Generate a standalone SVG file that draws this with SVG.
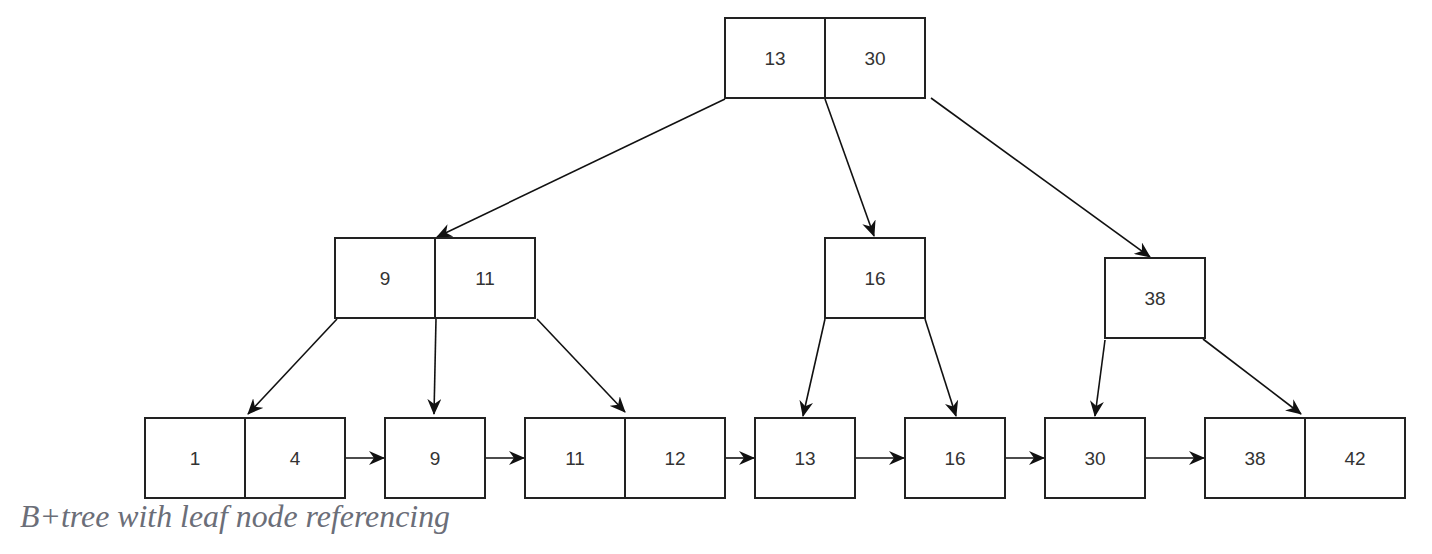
<svg xmlns="http://www.w3.org/2000/svg" width="1432" height="554" viewBox="0 0 1432 554">
<style>
.b{fill:#fff;stroke:#222;stroke-width:2}
.d{stroke:#222;stroke-width:2}
.t{font-family:"Liberation Sans",Arial,sans-serif;font-size:19px;fill:#333;text-anchor:middle;dominant-baseline:central}
.c{stroke:#111;stroke-width:1.6;fill:none;marker-end:url(#a)}
.cap{font-family:"Liberation Serif","Times New Roman",serif;font-style:italic;font-size:31px;fill:#6b6e78}
</style>
<defs>
<marker id="a" viewBox="0 0 16 14" refX="15" refY="7" markerWidth="16" markerHeight="14" markerUnits="userSpaceOnUse" orient="auto">
<path d="M0,0 L16,7 L0,14 L5,7 Z" fill="#111"/>
</marker>
</defs>
<g id="connectors">
<line class="c" x1="725" y1="99" x2="437" y2="237"/>
<line class="c" x1="825" y1="99" x2="874" y2="236"/>
<line class="c" x1="931" y1="98" x2="1150" y2="257"/>
<line class="c" x1="337" y1="319" x2="248" y2="414"/>
<line class="c" x1="436" y1="319" x2="434" y2="414"/>
<line class="c" x1="537" y1="319" x2="625" y2="412"/>
<line class="c" x1="825" y1="319" x2="803" y2="416"/>
<line class="c" x1="925" y1="319" x2="956" y2="416"/>
<line class="c" x1="1105" y1="340" x2="1095" y2="416"/>
<line class="c" x1="1203" y1="339" x2="1301" y2="414"/>
<line class="c" x1="346" y1="458" x2="384" y2="458"/>
<line class="c" x1="486" y1="458" x2="524" y2="458"/>
<line class="c" x1="726" y1="458" x2="754" y2="458"/>
<line class="c" x1="856" y1="458" x2="904" y2="458"/>
<line class="c" x1="1006" y1="458" x2="1044" y2="458"/>
<line class="c" x1="1146" y1="458" x2="1204" y2="458"/>
</g>
<g id="root">
<rect class="b" x="725" y="18" width="200" height="80"/>
<line class="d" x1="825" y1="18" x2="825" y2="98"/>
<text class="t" x="775" y="58">13</text>
<text class="t" x="875" y="58">30</text>
</g>
<g id="n-9-11">
<rect class="b" x="335" y="238" width="200" height="80"/>
<line class="d" x1="435" y1="238" x2="435" y2="318"/>
<text class="t" x="385" y="278">9</text>
<text class="t" x="485" y="278">11</text>
</g>
<g id="n-16">
<rect class="b" x="825" y="238" width="100" height="80"/>
<text class="t" x="875" y="278">16</text>
</g>
<g id="n-38">
<rect class="b" x="1105" y="258" width="100" height="80"/>
<text class="t" x="1155" y="298">38</text>
</g>
<g id="leaf-1-4">
<rect class="b" x="145" y="418" width="200" height="80"/>
<line class="d" x1="245" y1="418" x2="245" y2="498"/>
<text class="t" x="195" y="458">1</text>
<text class="t" x="295" y="458">4</text>
</g>
<g id="leaf-9">
<rect class="b" x="385" y="418" width="100" height="80"/>
<text class="t" x="435" y="458">9</text>
</g>
<g id="leaf-11-12">
<rect class="b" x="525" y="418" width="200" height="80"/>
<line class="d" x1="625" y1="418" x2="625" y2="498"/>
<text class="t" x="575" y="458">11</text>
<text class="t" x="675" y="458">12</text>
</g>
<g id="leaf-13">
<rect class="b" x="755" y="418" width="100" height="80"/>
<text class="t" x="805" y="458">13</text>
</g>
<g id="leaf-16">
<rect class="b" x="905" y="418" width="100" height="80"/>
<text class="t" x="955" y="458">16</text>
</g>
<g id="leaf-30">
<rect class="b" x="1045" y="418" width="100" height="80"/>
<text class="t" x="1095" y="458">30</text>
</g>
<g id="leaf-38-42">
<rect class="b" x="1205" y="418" width="200" height="80"/>
<line class="d" x1="1305" y1="418" x2="1305" y2="498"/>
<text class="t" x="1255" y="458">38</text>
<text class="t" x="1355" y="458">42</text>
</g>
<text class="cap" x="20" y="527" textLength="430" lengthAdjust="spacingAndGlyphs">B+tree with leaf node referencing</text>
</svg>
